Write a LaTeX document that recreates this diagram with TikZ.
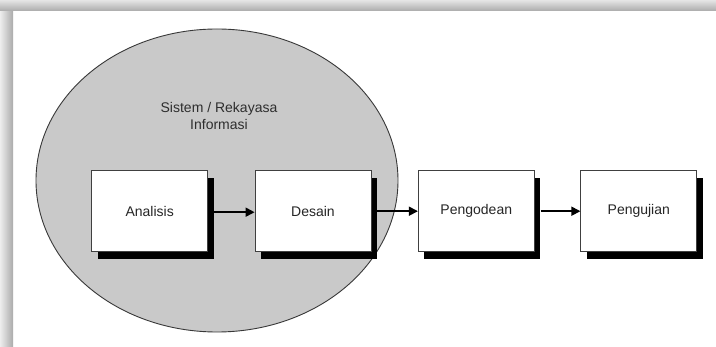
\documentclass[tikz,border=0pt]{standalone}
\usepackage{fontspec}
\setmainfont{Liberation Sans}
\usetikzlibrary{shapes.geometric,shadows,arrows.meta}
\tikzset{
  stagebox/.style={draw=black!75, line width=0.8pt, fill=white,
    minimum width=116pt, minimum height=81pt, inner sep=0pt,
    font=\fontsize{14}{16}\selectfont, text=black!85,
    drop shadow={shadow xshift=6pt, shadow yshift=-7pt, fill=black, opacity=1}},
  flow/.style={-{Triangle[length=9pt,width=9pt]}, line width=1.7pt, black},
  lbl/.style={font=\fontsize{14}{17}\selectfont, text=black!82, align=center, inner sep=0pt}
}
\begin{document}
\begin{tikzpicture}[x=1pt,y=-1pt]
\useasboundingbox (0,0) rectangle (716,347);
\fill[white] (0,0) rectangle (716,347);
% frame
\shade[left color=black!7, right color=black!33] (0,0) rectangle (13,347);
\shade[top color=black!10, bottom color=black!33] (0,0) rectangle (716,11);
% system ellipse
\node[ellipse, draw=black!78, fill=black!21, line width=0.9pt,
      minimum width=362pt, minimum height=303pt, inner sep=0pt] (sys) at (217,180.5) {};
\node[lbl] (title) at (219,115.5) {Sistem / Rekayasa\\Informasi};
% stages
\node[stagebox] (ana) at (149.7,211.2) {Analisis};
\node[stagebox] (des) at (313,211.2) {Desain};
\node[stagebox] (pen) at (476.3,211.2) {\raisebox{2pt}{Pengodean}};
\node[stagebox] (uji) at (638.8,211.2) {Pengujian};
% connectors
\draw[flow] ([xshift=6pt,yshift=-1pt]ana.east) -- ([yshift=-1pt]des.west);
\draw[flow] ([xshift=6pt]des.east) -- (pen.west);
\draw[flow] ([xshift=6pt]pen.east) -- (uji.west);
\end{tikzpicture}
\end{document}
